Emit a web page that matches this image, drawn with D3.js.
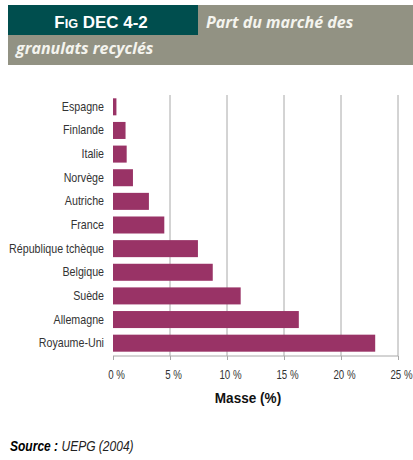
<!DOCTYPE html>
<html>
<head>
<meta charset="utf-8">
<script src="https://cdn.jsdelivr.net/npm/d3@7"></script>
<style>
  body { margin: 0; background: #fff; }
  svg { display: block; }
</style>
</head>
<body>
<div id="vis"></div>
<script>
const width = 413
const height = 460

// data
const countries = ["Espagne", "Finlande", "Italie", "Norvège", "Autriche", "France",
    "République tchèque", "Belgique", "Suède", "Allemagne", "Royaume-Uni"]
const shares = [0.3, 1.1, 1.2, 1.75, 3.15, 4.5, 7.45, 8.75, 11.2, 16.3, 23.0]
const ticks = [0, 5, 10, 15, 20, 25]

const narrow = "Liberation Sans, Arial, sans-serif"

const svg = d3.select("#vis")
    .append("svg")
    .attr("width", width)
    .attr("height", height)

// header
svg.append("rect")
    .attr("x", 8).attr("y", 5).attr("width", 405).attr("height", 60)
    .attr("fill", "#929283")
svg.append("rect")
    .attr("x", 8).attr("y", 5).attr("width", 190).attr("height", 30)
    .attr("fill", "#004e4e")

const fig = svg.append("text")
    .attr("transform", "translate(101, 28) scale(1.06, 1)")
    .attr("text-anchor", "middle")
    .attr("fill", "#fff")
    .attr("font-family", narrow)
    .attr("font-weight", "bold")
    .attr("font-size", 16)
fig.append("tspan").text("F")
fig.append("tspan").attr("font-size", 12).text("IG")
fig.append("tspan").text(" DEC 4-2")

svg.append("text")
    .attr("x", 206).attr("y", 28)
    .attr("fill", "#f4f4ee")
    .attr("font-family", "Open Sans, sans-serif")
    .attr("font-style", "italic")
    .attr("font-weight", "bold")
    .attr("font-size", 16)
    .text("Part du marché des")
svg.append("text")
    .attr("x", 16).attr("y", 54)
    .attr("fill", "#f4f4ee")
    .attr("font-family", "Open Sans, sans-serif")
    .attr("font-style", "italic")
    .attr("font-weight", "bold")
    .attr("font-size", 16)
    .text("granulats recyclés")

// chart
const xScale = d3.scaleLinear([0, 25], [113, 398])
const yScale = d3.scaleBand(countries, [95, 355]).paddingInner(0.28).paddingOuter(0.14)

svg.append("g").selectAll("line")
    .data(ticks.slice(1))
    .join("line")
        .attr("x1", d => xScale(d)).attr("x2", d => xScale(d))
        .attr("y1", 95).attr("y2", 356)
        .attr("stroke", "#a8a8a8")
        .attr("stroke-width", 1)

svg.selectAll("rect.bar")
    .data(countries)
    .join("rect")
        .attr("class", "bar")
        .attr("x", xScale(0))
        .attr("y", d => yScale(d))
        .attr("height", yScale.bandwidth())
        .attr("width", (d, i) => xScale(shares[i]) - xScale(0))
        .attr("fill", "#993366")

const axisB = d3.axisBottom(xScale)
    .tickValues(ticks)
    .tickSize(4)
    .tickFormat(d => d + " %")
const xAxis = svg.append("g")
    .attr("transform", "translate(0, 356)")
    .call(axisB)
xAxis.select(".domain").attr("stroke", "#a8a8a8").attr("d", `M${xScale(0)},0H${xScale(25)}`)
xAxis.selectAll(".tick line").attr("stroke", "#a8a8a8")
xAxis.selectAll(".tick text")
    .attr("font-family", narrow)
    .attr("dy", "0")
    .attr("y", 0)
    .attr("transform", "translate(3, 23) scale(0.72, 1)")
    .attr("fill", "#333")
    .attr("font-size", 13.5)

const axisL = d3.axisLeft(yScale).tickSize(0).tickPadding(9)
const yAxis = svg.append("g")
    .attr("transform", `translate(${xScale(0)}, 0)`)
    .call(axisL)
yAxis.select(".domain").remove()
yAxis.selectAll(".tick text")
    .attr("font-family", narrow)
    .attr("x", 0)
    .attr("transform", "translate(-9, 0) scale(0.855, 1)")
    .attr("fill", "#333")
    .attr("font-size", 12.5)

svg.append("text")
    .attr("transform", "translate(248, 403) scale(0.97, 1)")
    .attr("text-anchor", "middle")
    .attr("font-family", narrow)
    .attr("font-weight", "bold")
    .attr("font-size", 14)
    .attr("fill", "#111")
    .text("Masse (%)")

const src = svg.append("text")
    .attr("transform", "translate(10, 451) scale(0.83, 1)")
    .attr("font-family", narrow)
    .attr("font-style", "italic")
    .attr("font-size", 14.5)
    .attr("fill", "#222")
src.append("tspan").attr("font-weight", "bold").attr("fill", "#000").text("Source :")
src.append("tspan").text(" UEPG (2004)")
</script>
</body>
</html>
